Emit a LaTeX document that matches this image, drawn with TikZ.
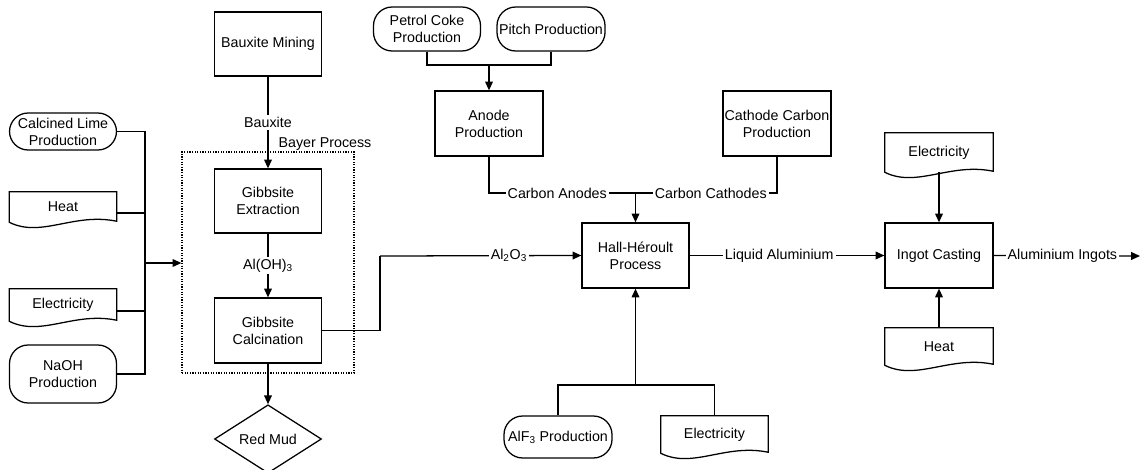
\documentclass[tikz,border=0pt]{standalone}
\usepackage{fontspec}
\setmainfont{Liberation Sans}
\usetikzlibrary{arrows.meta,calc,shapes.geometric}
\newcommand\pxu{0.75pt}
\newcommand\docpath[1]{\draw[line] (#1.north west) -- (#1.north east) -- ($(#1.south east)+(0,-1)$) .. controls ($(#1.south east)+(-43,-10)$) and ($(#1.south west)+(32,16)$) .. (#1.south west) -- cycle;}
\begin{document}
\begin{tikzpicture}[x=0.75pt,y=-0.75pt,
  line/.style={line width=0.95pt,draw=black},
  arr/.style={line,-{Triangle[length=6.6pt,width=5.8pt]}},
  txt/.style={font=\fontsize{10.7}{12.8}\selectfont,align=center,text=black},
  proc/.style={txt,line,rectangle,inner sep=0pt,minimum width=107*\pxu,minimum height=65*\pxu},
  term/.style={txt,line,rectangle,rounded corners=14pt,inner sep=0pt,minimum width=107*\pxu},
  doc/.style={txt,rectangle,inner sep=0pt,minimum width=107*\pxu},
  lbl/.style={txt,fill=white,inner sep=1.5pt},
  ddot/.style={line width=0.95pt,densely dotted,draw=black,rectangle,inner sep=0pt}
]
\useasboundingbox (0,0) rectangle (1142,470);

% Bayer process frame
\node[ddot,minimum width=172*\pxu,minimum height=221*\pxu] (bayer) at (268,262.5) {};
\node[lbl,fill=none,inner sep=0pt] (bayerlbl) at (325,144) {Bayer Process};

% left inputs
\node[term,minimum height=37*\pxu] (lime) at (63,131.5) {Calcined Lime\\Production};
\node[doc,minimum height=30*\pxu] (heat) at (63,207) {Heat};
\docpath{heat}
\node[doc,minimum height=32*\pxu] (elec1) at (63,305) {Electricity};
\docpath{elec1}
\node[term,minimum height=58*\pxu] (naoh) at (63,374) {NaOH\\Production};

% Bayer column
\node[proc,minimum height=64*\pxu] (mining) at (268,44) {Bauxite Mining};
\node[proc,minimum height=64*\pxu] (extract) at (268,201) {Gibbsite\\Extraction};
\node[proc] (calc) at (268,330.5) {Gibbsite\\Calcination};
\node[txt,line,diamond,inner sep=0pt,minimum width=107*\pxu,minimum height=62*\pxu] (redmud) at (268,439) {Red Mud};

% anode / cathode
\node[term,minimum height=44*\pxu] (petcoke) at (427,29) {Petrol Coke\\Production};
\node[term,minimum height=44*\pxu,minimum width=108*\pxu] (pitch) at (551,29) {Pitch Production};
\node[proc,minimum width=108*\pxu] (anode) at (489,123.5) {Anode\\Production};
\node[proc,minimum width=108*\pxu] (cathode) at (777,123.5) {Cathode Carbon\\Production};

% Hall-Heroult
\node[proc] (hall) at (635.5,255.5) {Hall-Héroult\\Process};
\node[term,minimum height=42*\pxu,minimum width=108*\pxu] (alf) at (558,437) {AlF\textsubscript{3} Production};
\node[doc,minimum height=37*\pxu] (elec3) at (714.5,434.5) {Electricity};
\docpath{elec3}

% ingot casting
\node[proc,minimum width=108*\pxu] (ingot) at (939,255.5) {Ingot Casting};
\node[doc,minimum height=39*\pxu,minimum width=108*\pxu] (elec2) at (939,152.5) {Electricity};
\docpath{elec2}
\node[doc,minimum height=37*\pxu,minimum width=108*\pxu] (heat2) at (939,346.5) {Heat};
\docpath{heat2}

% junction coordinates
\coordinate (bus) at (145,263);
\coordinate (a2) at (380,256);
\coordinate (jt) at (489,65);
\coordinate (jn) at (635.5,193);
\coordinate (jb) at (635.5,385);
\coordinate (out) at (1140,256);

% left bus
\draw[line] (lime.east) -| (bus);
\draw[line] ($(heat.east)+(0,6)$) -| (bus);
\draw[line] ($(elec1.east)+(0,6)$) -| (bus);
\draw[line] (naoh.east) -| (bus);
\draw[arr] (bus) -- (bus -| bayer.west);

% Bayer flow
\draw[arr] (mining) -- node[lbl] {Bauxite} (extract);
\draw[arr] (extract) -- node[lbl] {Al(OH)\textsubscript{3}} (calc);
\draw[arr] (calc) -- (redmud);
\draw[line] (calc.east) -| (a2);
\draw[arr] (a2) -- node[lbl,pos=0.64] {Al\textsubscript{2}O\textsubscript{3}} (hall.west);

% anode inputs
\draw[line] (petcoke.south) |- (jt);
\draw[line] (pitch.south) |- (jt);
\draw[arr] (jt) -- (anode.north);

% carbon to hall
\draw[line] (anode.south) |- node[lbl,pos=0.733] {Carbon Anodes} (jn);
\draw[line] (cathode.south) |- node[lbl,pos=0.734] {Carbon Cathodes} (jn);
\draw[arr] (jn) -- (hall.north);

% bottom inputs
\draw[line] (alf.north) |- (jb);
\draw[line] (elec3.north) |- (jb);
\draw[arr] (jb) -- (hall.south);

% to ingot
\draw[arr] (hall.east) -- node[lbl,pos=0.46] {Liquid Aluminium} (ingot.west);
\draw[arr] (elec2.south) -- (ingot.north);
\draw[arr] (heat2.north) -- (ingot.south);
\draw[arr] (ingot.east) -- node[lbl,pos=0.47] {Aluminium Ingots} (out);
\end{tikzpicture}
\end{document}
